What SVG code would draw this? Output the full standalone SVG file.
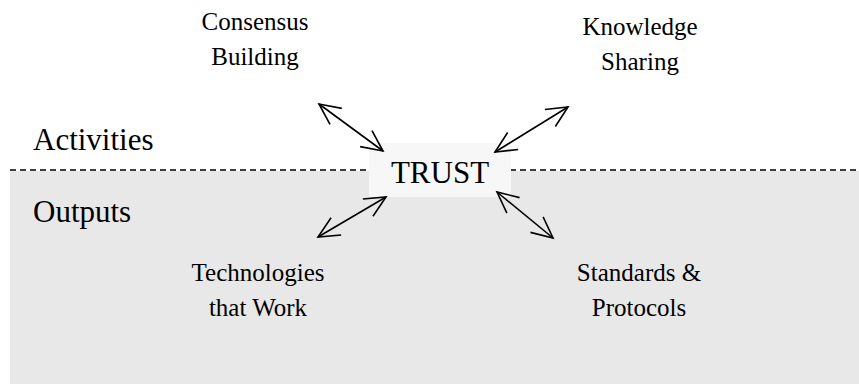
<svg xmlns="http://www.w3.org/2000/svg" width="859" height="385" viewBox="0 0 859 385" font-family="'Liberation Serif', serif">
<style>
text{font-family:'Liberation Serif',serif;fill:#000}
.lbl{font-size:25px;text-anchor:middle}
.big{font-size:31px}
.conn{stroke:#000;stroke-width:1.6;fill:none;marker-start:url(#ah);marker-end:url(#ah)}
</style>
<defs>
<marker id="ah" markerUnits="userSpaceOnUse" orient="auto-start-reverse" refX="0" refY="0" markerWidth="40" markerHeight="40" overflow="visible">
<path d="M-21,-10 L0,0 L-21,10" fill="none" stroke="#000" stroke-width="1.6"/>
</marker>
</defs>
<rect x="10" y="171" width="849" height="213" fill="#e8e8e8"/>
<line x1="10" y1="170" x2="858" y2="170" stroke="#000" stroke-width="1.3" stroke-dasharray="6,4"/>
<g id="activities"><text class="big" x="33" y="150">Activities</text></g>
<g id="outputs"><text class="big" x="33" y="222">Outputs</text></g>
<g id="trust">
<rect x="369" y="143" width="142" height="54" fill="#f7f7f7"/>
<text class="big" x="440" y="183" text-anchor="middle" font-size="32">TRUST</text>
</g>
<g id="consensus"><text class="lbl" x="255" y="30">Consensus</text><text class="lbl" x="255" y="65">Building</text></g>
<g id="knowledge"><text class="lbl" x="640" y="35">Knowledge</text><text class="lbl" x="640" y="70">Sharing</text></g>
<g id="technologies"><text class="lbl" x="258" y="281">Technologies</text><text class="lbl" x="258" y="316">that Work</text></g>
<g id="standards"><text class="lbl" x="639" y="281">Standards &amp;</text><text class="lbl" x="639" y="316">Protocols</text></g>
<g id="connectors">
<line class="conn" x1="319" y1="104" x2="383" y2="151"/>
<line class="conn" x1="568" y1="107" x2="495" y2="152"/>
<line class="conn" x1="386" y1="197" x2="318" y2="237"/>
<line class="conn" x1="497" y1="192" x2="553" y2="238"/>
</g>
</svg>
